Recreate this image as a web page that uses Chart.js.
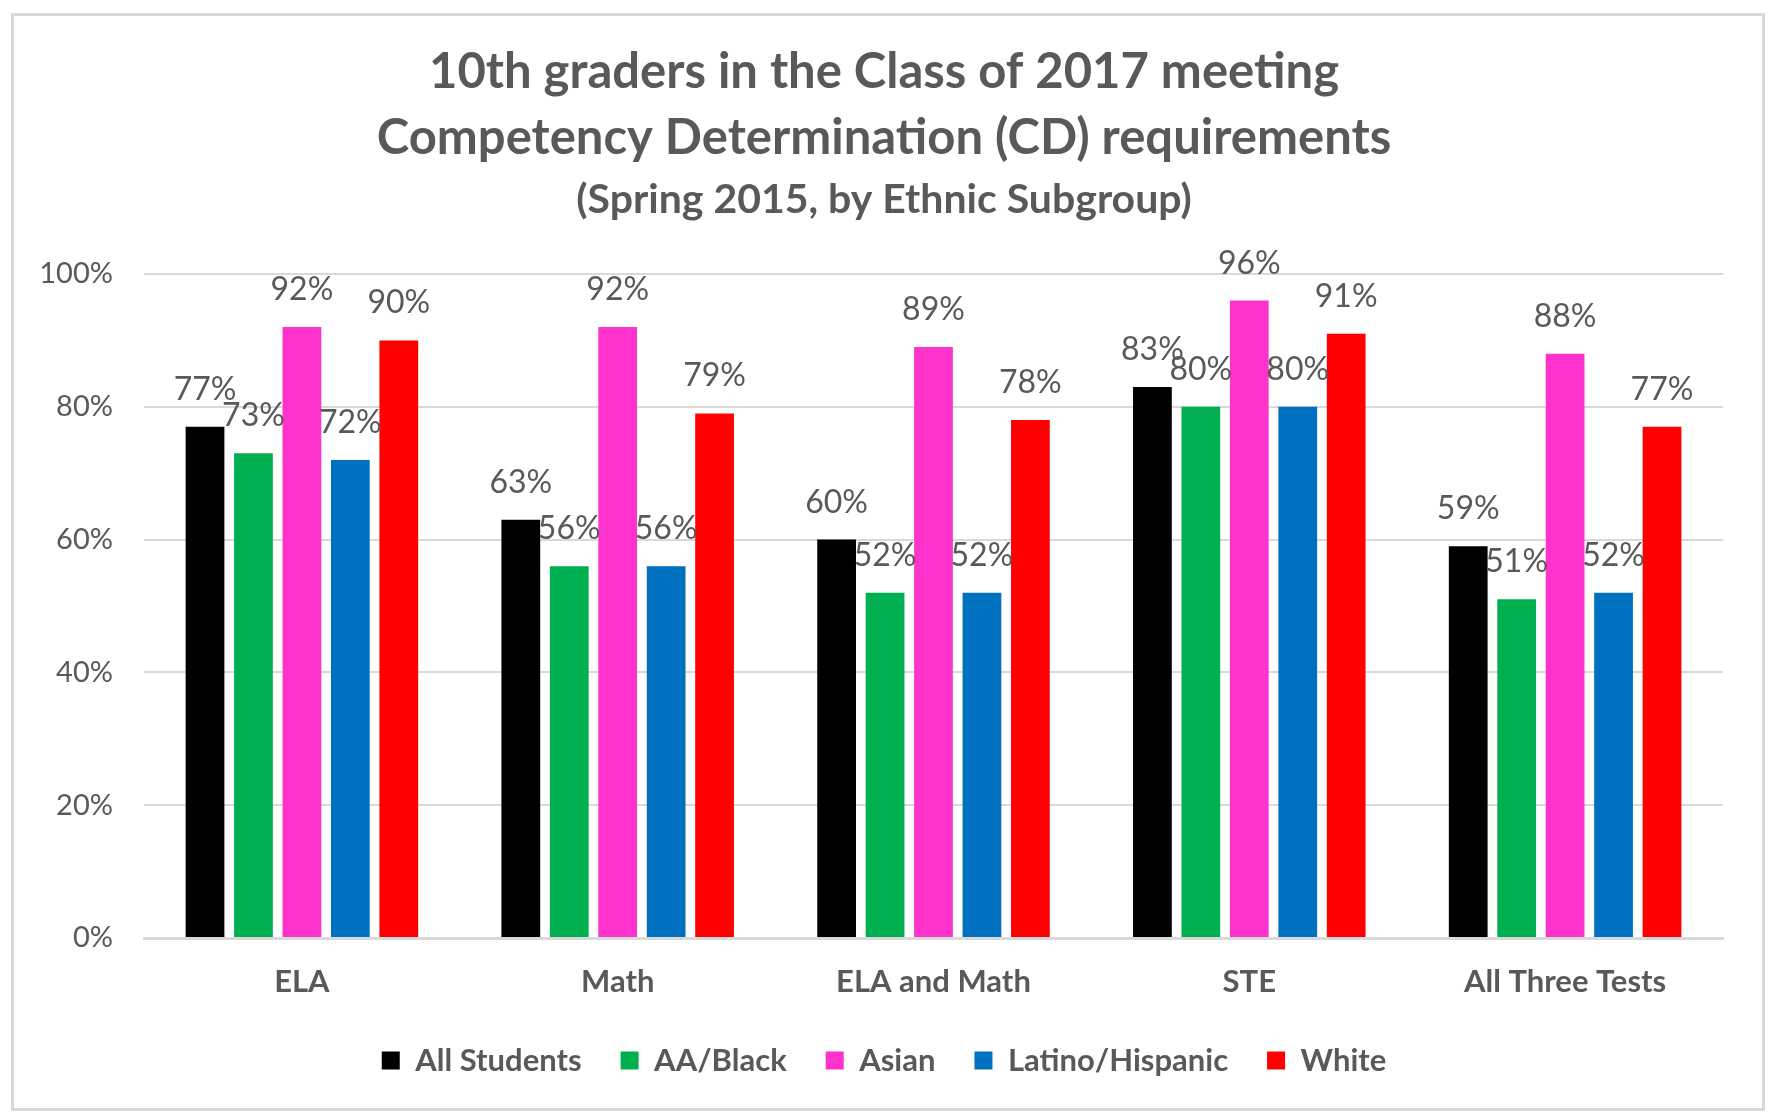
<!DOCTYPE html>
<html>
<head>
<meta charset="utf-8">
<script src="https://cdn.jsdelivr.net/npm/chart.js@4/dist/chart.umd.min.js"></script>
<style>
  html, body { margin: 0; padding: 0; background: #ffffff; overflow: hidden; }
  #wrap { position: relative; width: 1768px; height: 1114px; }
  #frame { position: absolute; left: 11px; top: 13px; width: 1754px; height: 1098px; border: 3px solid #d9d9d9; box-sizing: border-box; pointer-events: none; }
  canvas { position: absolute; left: 0; top: 0; }
</style>
</head>
<body>
<div id="wrap">
  <canvas id="c" width="1768" height="1114"></canvas>
  <div id="frame"></div>
</div>
<script>
const titleLines = ['10th graders in the Class of 2017 meeting', 'Competency Determination (CD) requirements'];
const subtitleText = '(Spring 2015, by Ethnic Subgroup)';
const categories = ['ELA', 'Math', 'ELA and Math', 'STE', 'All Three Tests'];
const seriesNames = ['All Students', 'AA/Black', 'Asian', 'Latino/Hispanic', 'White'];
const allStudents = [77, 63, 60, 83, 59];
const aaBlack = [73, 56, 52, 80, 51];
const asian = [92, 92, 89, 96, 88];
const latinoHispanic = [72, 56, 52, 80, 52];
const white = [90, 79, 78, 91, 77];
const yTicks = [0, 20, 40, 60, 80, 100];
const seriesColors = ['#000000', '#00B050', '#FF33CC', '#0070C0', '#FF0000'];

const FONT = "Lato, 'Open Sans', sans-serif";
const GRAY = '#595959';

const seriesValues = [allStudents, aaBlack, asian, latinoHispanic, white];

const dataLabelPlugin = {
  id: 'dataLabels',
  afterDatasetsDraw(chart) {
    const ctx = chart.ctx;
    ctx.save();
    ctx.font = '32px ' + FONT;
    ctx.fillStyle = GRAY;
    ctx.textAlign = 'center';
    ctx.textBaseline = 'alphabetic';
    chart.data.datasets.forEach((ds, i) => {
      const meta = chart.getDatasetMeta(i);
      meta.data.forEach((bar, j) => {
        ctx.fillText(ds.data[j] + '%', bar.x, bar.y - 27);
      });
    });
    ctx.restore();
  }
};

new Chart(document.getElementById('c'), {
  type: 'bar',
  data: {
    labels: categories,
    datasets: seriesNames.map((name, i) => ({
      label: name,
      data: seriesValues[i],
      backgroundColor: seriesColors[i],
      borderWidth: 0,
      categoryPercentage: 0.767,
      barPercentage: 0.8
    }))
  },
  options: {
    responsive: false,
    animation: false,
    devicePixelRatio: 1,
    layout: { padding: { left: 0, right: 0, top: 0, bottom: 28 } },
    plugins: {
      title: {
        display: true,
        text: titleLines,
        color: GRAY,
        font: { family: FONT, size: 49, weight: 'bold', lineHeight: '66px' },
        padding: { top: 39, bottom: 0 }
      },
      subtitle: {
        display: true,
        text: subtitleText,
        color: GRAY,
        font: { family: FONT, size: 41, weight: 'bold', lineHeight: '46px' },
        padding: { top: 6, bottom: 51 }
      },
      legend: {
        position: 'bottom',
        labels: {
          color: GRAY,
          font: { family: FONT, size: 31, weight: 'bold' },
          boxWidth: 18,
          boxHeight: 18,
          padding: 39
        }
      },
      tooltip: { enabled: false }
    },
    scales: {
      x: {
        grid: { display: false, drawTicks: false },
        border: { display: true, color: '#d9d9d9', width: 3 },
        ticks: { color: GRAY, font: { family: FONT, size: 31, weight: 'bold' }, padding: 25 },
        afterFit(scale) { scale.height = 68; }
      },
      y: {
        min: 0,
        max: 100,
        afterBuildTicks(scale) { scale.ticks = yTicks.map(v => ({ value: v })); },
        grid: { color: '#d9d9d9', lineWidth: 2, drawTicks: false },
        border: { display: false },
        ticks: {
          color: GRAY,
          font: { family: FONT, size: 29 },
          padding: 31,
          callback: v => v + '%'
        },
        afterFit(scale) { scale.width = 144; }
      },
      yRight: {
        position: 'right',
        display: true,
        grid: { display: false, drawTicks: false },
        border: { display: false },
        ticks: { display: false },
        afterFit(scale) { scale.width = 45; }
      }
    }
  },
  plugins: [dataLabelPlugin]
});
</script>
</body>
</html>
